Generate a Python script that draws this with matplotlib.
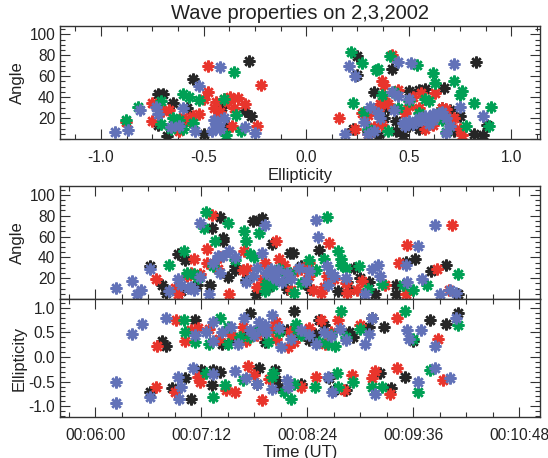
import matplotlib
matplotlib.use("Agg")
import matplotlib.pyplot as plt
from matplotlib.ticker import MultipleLocator, FuncFormatter

plt.rcParams['font.family'] = ['Liberation Sans', 'DejaVu Sans']

colors = {'black': '#262626', 'red': '#e8352c', 'green': '#00a055', 'blue': '#6272b8'}

# ---- Top panel: ellipticity vs angle ----
top_black_e = [-0.70, -0.72, -0.65, -0.58, -0.55, -0.41, -0.28, -0.27, -0.30, -0.72, -0.68, -0.38, -0.60,
               0.25, 0.25, 0.33, 0.42, 0.44, 0.47, 0.50, 0.55, 0.58, 0.67, 0.66, 0.70, 0.83, 0.82, 0.86, 0.88,
               0.23, 0.38, 0.44, 0.75, 0.55, 0.30,
               -0.63, -0.50, 0.40, 0.50, 0.60, 0.72, 0.35]
top_black_a = [43, 43, 34, 30, 57, 31, 75, 22, 27, 13, 3, 12, 16,
               79, 61, 45, 67, 8, 4, 46, 47, 48, 49, 30, 28, 74, 5, 4, 13,
               10, 20, 17, 22, 10, 8,
               12, 5, 30, 12, 20, 8, 3]
top_red_e = [-0.88, -0.75, -0.75, -0.67, -0.60, -0.55, -0.52, -0.48, -0.48, -0.45, -0.43, -0.42, -0.40, -0.37,
             -0.33, -0.30, -0.36, -0.24, -0.22, -0.50, -0.62, -0.70,
             0.16, 0.24, 0.30, 0.33, 0.36, 0.37, 0.38, 0.42, 0.40, 0.45, 0.50, 0.52, 0.56, 0.58, 0.62, 0.66,
             0.68, 0.72, 0.75, 0.76, 0.63, 0.37, 0.27,
             -0.44, -0.38, -0.35, -0.57, 0.35, 0.38, 0.48, 0.55, 0.70, 0.30]
top_red_a = [16, 17, 34, 28, 21, 22, 24, 45, 70, 30, 22, 26, 38, 40,
             39, 33, 12, 12, 52, 38, 8, 27,
             20, 10, 23, 11, 33, 55, 52, 80, 33, 47, 32, 40, 44, 10, 13, 30,
             29, 20, 10, 4, 44, 13, 25,
             35, 35, 30, 18, 28, 38, 25, 30, 15, 5]
top_green_e = [-0.88, -0.82, -0.71, -0.71, -0.65, -0.63, -0.60, -0.60, -0.55, -0.52, -0.40, -0.39, -0.35, -0.34,
               -0.32, -0.62,
               0.22, 0.23, 0.27, 0.28, 0.34, 0.35, 0.37, 0.41, 0.43, 0.50, 0.54, 0.58, 0.60, 0.62, 0.63, 0.68,
               0.72, 0.75, 0.76, 0.82, 0.90, 0.89, 0.40, 0.64,
               -0.66, -0.57, 0.45, 0.55, 0.66, 0.78, 0.30]
top_green_a = [18, 31, 36, 14, 20, 16, 43, 10, 15, 37, 38, 4, 64, 23,
               8, 18,
               83, 34, 73, 26, 66, 67, 42, 79, 45, 36, 71, 38, 36, 63, 54, 7,
               55, 42, 46, 34, 31, 12, 8, 24,
               10, 40, 30, 25, 18, 12, 10]
top_blue_e = [-0.93, -0.87, -0.81, -0.73, -0.66, -0.52, -0.42, -0.44, -0.46, -0.43, -0.54, -0.25, -0.30, -0.72,
              0.19, 0.21, 0.24, 0.31, 0.28, 0.45, 0.51, 0.45, 0.43, 0.47, 0.50, 0.53, 0.56, 0.60,
              0.72, 0.62, 0.68, 0.86, 0.75, 0.36, 0.66, 0.70, 0.33,
              -0.45, -0.42, -0.40, -0.60, -0.62, 0.48, 0.52, 0.55, 0.58, 0.62, 0.65, 0.68, 0.42, 0.50,
              0.35, 0.30]
top_blue_a = [7, 9, 28, 31, 11, 51, 69, 13, 8, 14, 8, 6, 11, 24,
              5, 70, 60, 31, 16, 74, 73, 41, 28, 15, 17, 16, 18, 14,
              72, 24, 6, 22, 31, 20, 26, 12, 8,
              18, 10, 20, 30, 12, 12, 14, 20, 22, 18, 25, 20, 45, 38,
              25, 5]

# ---- Middle panel: time (s after 00:00:00) vs angle ----
mid_blue_t = [374, 385, 391, 388, 397, 416, 418, 423, 427, 431, 437, 431, 443, 447, 451, 462, 467, 473, 475,
              476, 479, 483, 487, 493, 503, 510, 511, 517, 518, 522, 543, 548, 552, 553, 571, 572, 579, 582,
              591, 594, 601, 605,
              440, 455, 470, 480, 484, 490, 498, 505, 520, 530, 445, 425, 410]
mid_blue_a = [11, 17, 9, 5, 29, 19, 13, 11, 9, 21, 5, 73, 41, 41, 46, 16, 22, 44, 71,
              25, 29, 19, 16, 19, 17, 76, 60, 32, 13, 22, 5, 29, 33, 22, 33, 16, 51, 19,
              71, 5, 9, 6,
              35, 40, 30, 22, 28, 25, 30, 27, 25, 20, 25, 12, 8]
mid_red_t = [401, 414, 416, 422, 427, 431, 436, 439, 436, 443, 451, 461, 463, 474, 483, 485, 489, 493, 500,
             505, 508, 513, 517, 519, 522, 531, 538, 541, 557, 566, 571, 572, 592, 600, 602,
             445, 460, 475, 488, 495, 505, 515, 530, 425, 470]
mid_red_a = [19, 11, 5, 22, 38, 24, 48, 81, 35, 29, 5, 46, 29, 19, 56, 38, 19, 9, 29,
             35, 9, 6, 22, 54, 19, 6, 9, 17, 13, 35, 5, 52, 29, 9, 71,
             40, 28, 35, 33, 26, 22, 12, 15, 25, 12]
mid_black_t = [397, 405, 408, 416, 421, 429, 438, 439, 445, 447, 447, 450, 455, 467, 471, 473, 469, 480, 480,
               492, 494, 500, 506, 512, 531, 533, 536, 546, 550, 564, 564, 571, 577, 588, 598, 606,
               455, 462, 478, 490, 502, 525, 540, 418]
mid_black_a = [32, 13, 6, 43, 37, 13, 13, 68, 79, 59, 56, 21, 32, 75, 76, 78, 5, 53, 25,
               44, 44, 32, 10, 47, 16, 9, 30, 16, 5, 13, 5, 36, 38, 27, 33, 5,
               28, 18, 12, 10, 15, 8, 20, 8]
mid_green_t = [410, 420, 422, 427, 434, 435, 440, 441, 450, 455, 461, 462, 465, 471, 475, 476, 481, 485, 489,
               495, 505, 517, 515, 525, 527, 527, 539, 555, 569, 576, 585, 606,
               468, 478, 492, 500, 510, 530, 545, 430]
mid_green_a = [33, 46, 25, 24, 68, 84, 32, 56, 73, 37, 65, 56, 43, 63, 8, 14, 13, 29, 19,
               6, 37, 79, 38, 46, 38, 33, 32, 14, 13, 9, 13, 24,
               40, 20, 25, 15, 28, 30, 10, 20]

# ---- Bottom panel: time vs ellipticity ----
bot_blue_t = [374, 374, 385, 392, 397, 408, 416, 417, 418, 426, 428, 435, 440, 440, 446, 455, 457, 461, 462,
              471, 473, 476, 480, 486, 490, 491, 493, 510, 515, 518, 521, 526, 543, 546, 548, 550, 572, 573,
              579, 581, 591, 591, 601, 605,
              465, 475, 485, 500, 505, 468, 452, 520, 530, 470, 480, 440]
bot_blue_e = [-0.50, -0.94, 0.47, 0.68, -0.82, 0.79, -0.40, -0.85, -0.60, -0.22, 0.44, 0.51, 0.72, 0.33, 0.51,
              -0.29, 0.26, 0.79, -0.43, 0.72, 0.58, 0.51, 0.86, 0.20, -0.47, -0.60, 0.37, 0.26, 0.51, -0.40,
              -0.71, 0.58, 0.26, 0.47, 0.79, -0.75, 0.55, 0.37, -0.50, 0.55, 0.23, -0.22, -0.43, 0.79,
              0.55, 0.65, 0.60, 0.55, 0.45, 0.45, 0.62, 0.42, 0.35, -0.55, -0.65, -0.35]
bot_red_t = [402, 401, 415, 414, 421, 425, 431, 430, 437, 444, 449, 455, 460, 464, 468, 473, 483, 483, 491,
             492, 500, 513, 510, 516, 525, 529, 534, 548, 550, 560, 565, 565, 593, 596, 462,
             470, 480, 495, 505, 520, 452, 478, 540, 430]
bot_red_e = [0.23, -0.60, 0.76, -0.71, 0.33, 0.54, -0.50, -0.40, 0.58, 0.37, -0.68, -0.71, 0.61, -0.19, -0.36,
             -0.88, 0.72, 0.37, 0.20, 0.51, -0.60, 0.76, -0.40, 0.26, 0.76, -0.68, -0.36, -0.43, -0.29, -0.75,
             0.79, -0.22, 0.37, -0.47, 0.33,
             0.45, 0.55, 0.30, 0.60, 0.50, 0.45, -0.45, 0.65, 0.60]
bot_black_t = [405, 408, 397, 412, 421, 425, 428, 432, 439, 440, 446, 455, 465, 470, 471, 482, 483, 495, 497,
               500, 509, 512, 519, 522, 530, 532, 546, 548, 553, 556, 561, 570, 576, 587, 598, 606,
               460, 475, 490, 505, 515, 535, 485, 445]
bot_black_e = [0.33, 0.23, -0.71, -0.64, -0.43, -0.85, 0.76, -0.26, -0.57, -0.26, 0.26, 0.37, 0.89, -0.54,
               -0.22, -0.26, -0.47, 0.93, 0.44, -0.54, 0.47, 0.76, -0.43, -0.68, -0.68, 0.51, 0.61, 0.79,
               -0.33, 0.61, -0.64, -0.40, 0.33, 0.76, 0.68, 0.89,
               0.45, 0.30, 0.55, 0.35, 0.65, 0.40, -0.60, -0.30]
bot_green_t = [420, 421, 428, 435, 437, 440, 445, 448, 450, 450, 460, 465, 477, 480, 481, 488, 493, 496, 497,
               509, 518, 520, 523, 524, 527, 525, 540, 548, 555, 570, 576, 579, 587, 606,
               470, 485, 500, 512, 530, 458, 495, 535]
bot_green_e = [0.76, 0.51, 0.30, -0.33, 0.26, -0.82, 0.79, -0.57, 0.61, 0.26, -0.47, 0.40, 0.30, -0.40, -0.33,
               -0.71, -0.85, 0.68, 0.58, -0.60, 0.26, 0.44, 0.23, -0.33, 0.93, -0.60, 0.58, -0.60, -0.60, 0.93,
               0.37, -0.71, -0.26, 0.65,
               0.55, 0.50, 0.45, 0.30, 0.40, 0.40, -0.55, -0.50]

title = "Wave properties on 2,3,2002"

W, H = 548, 458
fig = plt.figure(figsize=(W / 100, H / 100), dpi=100)

def ax_at(left, top, right, bottom):
    return fig.add_axes([left / W, 1 - bottom / H, (right - left) / W, (bottom - top) / H])

ax1 = ax_at(60, 26, 540, 139)
ax2 = ax_at(60, 186, 540, 299)
ax3 = ax_at(60, 299, 540, 417)

txtc = '#222222'
mk = (8, 2, 0)
ms = 8.5
mew = 1.8

def draw(ax, series):
    for col, xs, ys in series:
        ax.plot(xs, ys, linestyle='none', marker=mk, markersize=ms, markeredgewidth=mew,
                color=colors[col], clip_on=True)

draw(ax1, [('black', top_black_e, top_black_a), ('red', top_red_e, top_red_a),
           ('green', top_green_e, top_green_a), ('blue', top_blue_e, top_blue_a)])
draw(ax2, [('black', mid_black_t, mid_black_a), ('red', mid_red_t, mid_red_a),
           ('green', mid_green_t, mid_green_a), ('blue', mid_blue_t, mid_blue_a)])
draw(ax3, [('black', bot_black_t, bot_black_e), ('red', bot_red_t, bot_red_e),
           ('green', bot_green_t, bot_green_e), ('blue', bot_blue_t, bot_blue_e)])

def style(ax):
    for s in ax.spines.values():
        s.set_color('#333333')
        s.set_linewidth(1.0)
    ax.tick_params(which='both', direction='in', top=True, right=True, colors='#333333',
                   labelcolor=txtc, labelsize=11.2)
    ax.tick_params(which='major', length=7, width=0.8)
    ax.tick_params(which='minor', length=3.5, width=0.8)

for ax in (ax1, ax2, ax3):
    style(ax)

ax1.set_xlim(-1.2, 1.14)
ax1.set_ylim(0, 108)
ax1.xaxis.set_major_locator(MultipleLocator(0.5))
ax1.xaxis.set_minor_locator(MultipleLocator(0.125))
ax1.yaxis.set_major_locator(MultipleLocator(20))
ax1.yaxis.set_minor_locator(MultipleLocator(5))
ax1.xaxis.set_major_formatter(FuncFormatter(lambda v, p: f"{v:.1f}"))
ax1.yaxis.set_major_formatter(FuncFormatter(lambda v, p: "" if v <= 0 else f"{v:.0f}"))
ax1.set_xlabel("Ellipticity", fontsize=12, color=txtc, labelpad=2)
ax1.set_ylabel("Angle", fontsize=12, color=txtc, labelpad=3)
ax1.tick_params(axis='x', pad=8)
ax1.set_title(title, fontsize=14.5, color=txtc, pad=5)

for ax in (ax2, ax3):
    ax.set_xlim(336, 662)
    ax.xaxis.set_major_locator(MultipleLocator(72))
    ax.xaxis.set_minor_locator(MultipleLocator(18))

ax2.set_ylim(0, 108.5)
ax2.yaxis.set_major_locator(MultipleLocator(20))
ax2.yaxis.set_minor_locator(MultipleLocator(5))
ax2.yaxis.set_major_formatter(FuncFormatter(lambda v, p: "" if v <= 0 else f"{v:.0f}"))
ax2.tick_params(axis='x', labelbottom=False)
ax2.set_ylabel("Angle", fontsize=12, color=txtc, labelpad=3)

ax3.set_ylim(-1.22, 1.18)
ax3.yaxis.set_major_locator(MultipleLocator(0.5))
ax3.yaxis.set_minor_locator(MultipleLocator(0.1))
ax3.yaxis.set_major_formatter(FuncFormatter(lambda v, p: f"{v:.1f}"))
ax3.xaxis.set_major_formatter(FuncFormatter(
    lambda v, p: f"00:{int(round(v)) // 60:02d}:{int(round(v)) % 60:02d}"))
ax3.tick_params(axis='x', pad=8)
ax3.set_xlabel("Time (UT)", fontsize=12, color=txtc, labelpad=1)
ax3.set_ylabel("Ellipticity", fontsize=12, color=txtc, labelpad=1)

fig.savefig("out.png", dpi=100)
